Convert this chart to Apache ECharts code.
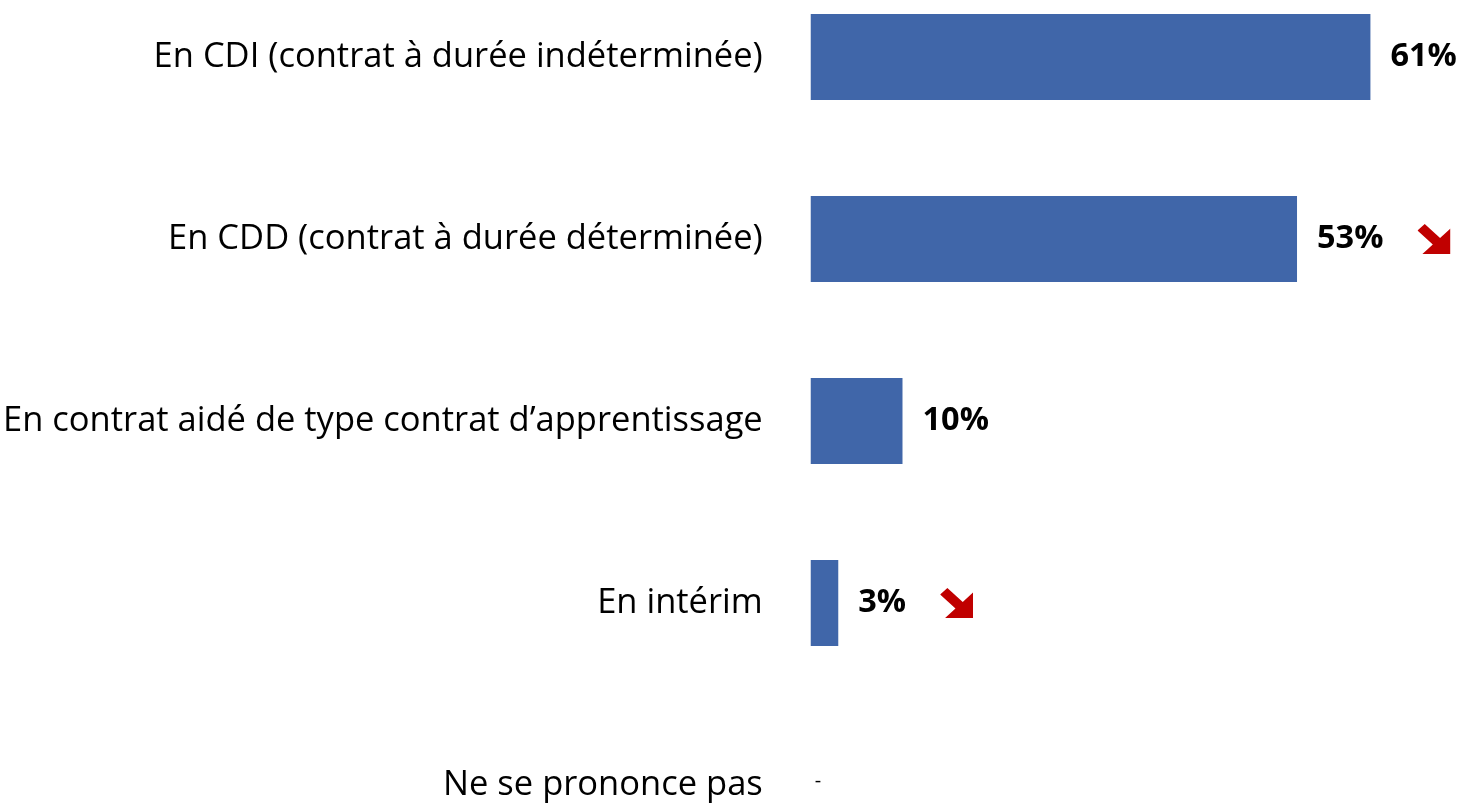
<!DOCTYPE html>
<html>
<head>
<meta charset="utf-8">
<script src="https://cdn.jsdelivr.net/npm/echarts@6/dist/echarts.min.js"></script>
<style>
  html, body { margin: 0; padding: 0; background: #fff; }
  #chart { width: 1464px; height: 803px; }
</style>
</head>
<body>
<div id="chart"></div>
<script>
// données du graphique
const categories = [
  'En CDI (contrat à durée indéterminée)',
  'En CDD (contrat à durée déterminée)',
  'En contrat aidé de type contrat d\u2019apprentissage',
  'En intérim',
  'Ne se prononce pas'
];
const values = [61, 53, 10, 3, 0];
const valueLabels = ['61%', '53%', '10%', '3%', '-'];
const trendDown = [false, true, false, true, false]; // flèche rouge = baisse

// flèche rouge en svg (pas de réseau, donc data url)
const arrowSvg = 'data:image/svg+xml;utf8,' + encodeURIComponent(
  '<svg xmlns="http://www.w3.org/2000/svg" viewBox="0 0 100 100">' +
  '<path fill="#C00000" d="M22 0 L68.5 46.5 L100 15 L100 100 L15 100 L46.5 68.5 L0 22 Z"/></svg>'
);

const chart = echarts.init(document.getElementById('chart'));

const barData = values.map(function (v, i) {
  const item = { value: v };
  if (i === values.length - 1) {
    item.label = { distance: 4, fontWeight: 'normal', fontSize: 20, offset: [0, -4] };
  }
  return item;
});

const option = {
  animation: false,
  // boundaryGap false : la 1re catégorie sur le bord haut, la dernière sur le bord bas
  grid: { left: 810, right: 11, top: 57, bottom: 18, containLabel: false },
  xAxis: { type: 'value', min: 0, max: 70, show: false },
  yAxis: {
    type: 'category',
    inverse: true,
    boundaryGap: false,
    data: categories,
    axisLine: { show: false },
    axisTick: { show: false },
    splitLine: { show: false },
    axisLabel: {
      margin: 48,
      fontSize: 34.5,
      fontFamily: 'Open Sans',
      color: '#000'
    }
  },
  series: [{
    type: 'bar',
    data: barData,
    barWidth: 86,
    itemStyle: { color: '#4066A9' },
    label: {
      show: true,
      position: 'right',
      distance: 20,
      fontSize: 32.5,
      fontWeight: 'bold',
      fontFamily: 'Open Sans',
      color: '#000',
      formatter: function (p) {
        let s = valueLabels[p.dataIndex];
        if (trendDown[p.dataIndex]) s += '{gap|}{arrow|}';
        return s;
      },
      rich: {
        gap: { width: 34 },
        arrow: { width: 33, height: 30, backgroundColor: { image: arrowSvg } }
      }
    }
  }]
};

chart.setOption(option);
</script>
</body>
</html>
